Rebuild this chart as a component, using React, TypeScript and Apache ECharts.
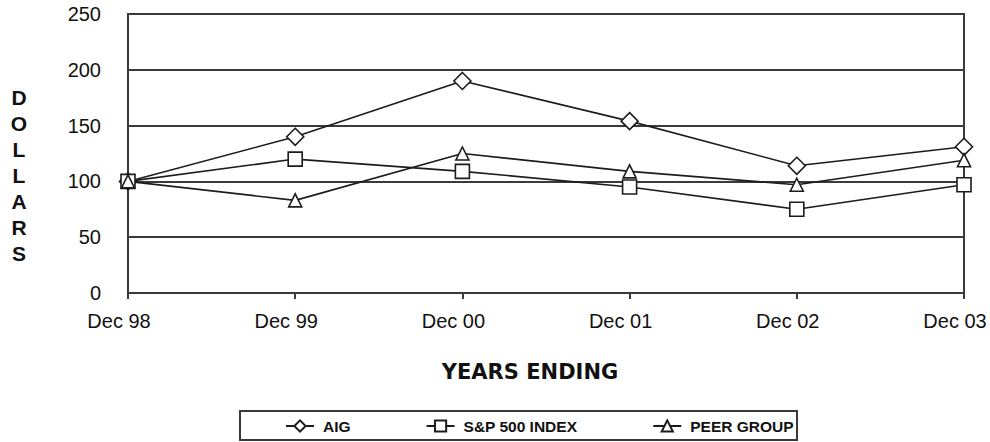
import React, { useEffect, useRef } from "react";
import * as echarts from "echarts";

const categories = ["Dec 98", "Dec 99", "Dec 00", "Dec 01", "Dec 02", "Dec 03"];
const aig = [100, 140, 190, 154, 114, 131];
const sp500 = [100, 120, 109, 95, 75, 97];
const peer = [100, 83, 125, 109, 97, 119];
const seriesNames = ["AIG", "S&P 500 INDEX", "PEER GROUP"];
const yTicks = { min: 0, max: 250, interval: 50 };

const INK = "#1c1c1c";
const GRID = "#3a3a3a";
const FONT = "'Liberation Sans', Arial, Helvetica, sans-serif";

export default function App() {
  const ref = useRef<HTMLDivElement>(null);

  useEffect(() => {
    if (!ref.current) return;
    const chart = echarts.init(ref.current, undefined, { renderer: "svg" });

    const mk = (name: string, data: number[], symbol: string, size: number) => ({
      name,
      type: "line",
      data,
      symbol,
      symbolSize: size,
      showSymbol: true,
      lineStyle: { color: INK, width: 1.6 },
      itemStyle: { color: "#ffffff", borderColor: INK, borderWidth: 1.6 },
      emphasis: { disabled: true },
    });

    chart.setOption({
      animation: false,
      backgroundColor: "#ffffff",
      grid: {
        left: 128,
        right: 26,
        top: 14,
        bottom: 149,
        show: true,
        borderColor: GRID,
        borderWidth: 2,
        backgroundColor: "transparent",
      },
      xAxis: {
        type: "category",
        data: categories,
        boundaryGap: false,
        axisLine: { show: true, lineStyle: { color: GRID, width: 2 } },
        axisTick: { show: true, length: 6, lineStyle: { color: GRID, width: 2 } },
        axisLabel: {
          color: "#111",
          fontFamily: FONT,
          fontSize: 20,
          margin: 18,
          padding: [0, 18, 0, 0],
        },
        splitLine: { show: false },
      },
      yAxis: {
        type: "value",
        min: yTicks.min,
        max: yTicks.max,
        interval: yTicks.interval,
        axisLine: { show: true, lineStyle: { color: GRID, width: 2 } },
        axisTick: { show: false },
        axisLabel: {
          color: "#111",
          fontFamily: FONT,
          fontSize: 20,
          margin: 27,
        },
        splitLine: { show: true, lineStyle: { color: GRID, width: 2 } },
      },
      legend: {
        data: seriesNames,
        left: 285,
        top: 418,
        itemWidth: 28,
        itemHeight: 14,
        itemGap: 75,
        padding: 0,
        selectedMode: false,
        textStyle: {
          color: "#111",
          fontFamily: FONT,
          fontSize: 15.5,
          fontWeight: "bold",
          padding: [0, 0, 0, 4],
        },
      },
      graphic: [
        {
          type: "rect",
          shape: { x: 240, y: 411, width: 557, height: 29 },
          style: { fill: "none", stroke: GRID, lineWidth: 2 },
          silent: true,
        },
        {
          type: "text",
          x: 19,
          y: 175,
          style: {
            text: "D\nO\nL\nL\nA\nR\nS",
            font: `bold 21px ${FONT}`,
            fill: "#111",
            align: "center",
            verticalAlign: "middle",
            lineHeight: 26,
          },
          silent: true,
        },
        {
          type: "text",
          x: 530,
          y: 372,
          style: {
            text: "YEARS ENDING",
            font: "bold 21px 'DejaVu Sans', sans-serif",
            fill: "#111",
            align: "center",
            verticalAlign: "middle",
          },
          silent: true,
        },
      ],
      series: [
        mk(seriesNames[0], aig, "diamond", 17),
        mk(seriesNames[1], sp500, "rect", 14),
        mk(seriesNames[2], peer, "triangle", 13),
      ],
    });

    return () => chart.dispose();
  }, []);

  return (
    <div
      ref={ref}
      style={{ position: "absolute", left: 0, top: 0, width: 990, height: 442 }}
    />
  );
}
